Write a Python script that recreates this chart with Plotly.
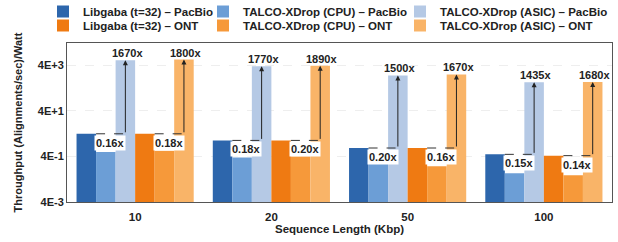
import math
import plotly.graph_objects as go

categories = ["10", "20", "50", "100"]

libgaba_pacbio = [3.9, 2.0, 0.93, 0.49]
talco_cpu_pacbio = [0.62, 0.36, 0.186, 0.073]
talco_asic_pacbio = [6500, 3540, 1400, 700]
libgaba_ont = [3.9, 2.0, 0.93, 0.43]
talco_cpu_ont = [0.70, 0.40, 0.149, 0.060]
talco_asic_ont = [7000, 3780, 1550, 720]

cpu_ratio_pacbio = ["0.16x", "0.18x", "0.20x", "0.15x"]
asic_ratio_pacbio = ["1670x", "1770x", "1500x", "1435x"]
cpu_ratio_ont = ["0.18x", "0.20x", "0.16x", "0.14x"]
asic_ratio_ont = ["1800x", "1890x", "1670x", "1680x"]

tick_vals = [0.004, 0.4, 40, 4000]
tick_text = ["4E-3", "4E-1", "4E+1", "4E+3"]

series = [
    ("Libgaba (t=32) – PacBio", libgaba_pacbio, "#2d66ac"),
    ("TALCO-XDrop (CPU) – PacBio", talco_cpu_pacbio, "#6c9ed6"),
    ("TALCO-XDrop (ASIC) – PacBio", talco_asic_pacbio, "#b5c9e5"),
    ("Libgaba (t=32) – ONT", libgaba_ont, "#ef7a12"),
    ("TALCO-XDrop (CPU) – ONT", talco_cpu_ont, "#f6993a"),
    ("TALCO-XDrop (ASIC) – ONT", talco_asic_ont, "#f9b468"),
]

FONT = "Liberation Sans"
W, H = 618, 242
ML, MR, MT, MB = 67, 6, 43, 40
PW = W - ML - MR

# legend slots: text-start px per row/column, row centre px
legend_cols = [[84, 244, 441], [84, 244, 441]]
legend_rows = [11.5, 25.5]

fig = go.Figure()
legend_layout = {}
for i, (name, vals, col) in enumerate(series):
    key = "legend" if i == 0 else f"legend{i + 1}"
    fig.add_trace(go.Bar(x=categories, y=vals, name=name, legend=key,
                         marker=dict(color=col, line=dict(width=0))))
    cx = legend_cols[i // 3][i % 3] - 41
    ry = legend_rows[i // 3]
    legend_layout[key] = dict(
        x=(cx - ML) / PW, xref="paper", xanchor="left",
        y=1 - ry / H, yref="container", yanchor="middle",
        font=dict(family=FONT, size=11.5, color="#222222", weight="bold"),
        bgcolor="rgba(0,0,0,0)", borderwidth=0, tracegroupgap=0,
    )

bargap = 0.14
n = len(series)
bw = (1 - bargap) / n

def center(ci, si):
    return ci - (1 - bargap) / 2 + bw * (si + 0.5)

groups = [
    (0, libgaba_pacbio, talco_cpu_pacbio, talco_asic_pacbio, cpu_ratio_pacbio, asic_ratio_pacbio),
    (3, libgaba_ont, talco_cpu_ont, talco_asic_ont, cpu_ratio_ont, asic_ratio_ont),
]
for ci in range(len(categories)):
    for s0, base, cpu, asic, rc, ra in groups:
        xb = center(ci, s0)
        xc = center(ci, s0 + 1)
        xa = center(ci, s0 + 2)
        fig.add_shape(type="line", xref="x", yref="y",
                      x0=xb + bw / 2, x1=xa, y0=base[ci], y1=base[ci],
                      line=dict(color="#333333", width=1, dash="dash"))
        fig.add_annotation(x=xa, y=math.log10(asic[ci]), ax=xa, ay=math.log10(base[ci]),
                           axref="x", ayref="y", xref="x", yref="y", text="",
                           showarrow=True, arrowhead=2, arrowsize=1, arrowwidth=1,
                           arrowcolor="#222222")
        fig.add_annotation(x=xa + 0.012, y=math.log10(asic[ci]), xref="x", yref="y",
                           text=ra[ci], showarrow=False, yanchor="bottom", yshift=-1,
                           font=dict(family=FONT, size=11, color="#222222", weight="bold"))
        fig.add_annotation(x=(xc + xa) / 2 - 0.04, y=math.log10(base[ci]), xref="x", yref="y",
                           text=rc[ci],
                           showarrow=False, yanchor="top", yshift=-1, bgcolor="white",
                           borderpad=1,
                           font=dict(family=FONT, size=11, color="#222222", weight="bold"))

fig.update_layout(
    width=W, height=H,
    margin=dict(l=ML, r=MR, t=MT, b=MB, autoexpand=False),
    paper_bgcolor="white", plot_bgcolor="white",
    barmode="group", bargap=bargap, bargroupgap=0,
    font=dict(family=FONT, size=11, color="#222222", weight="bold"),
    showlegend=True,
    **legend_layout,
)
fig.update_xaxes(showline=True, linecolor="#555555", linewidth=1, mirror=True,
                 ticks="", tickfont=dict(size=11.5), range=[-0.5, 3.5], ticklabelstandoff=4,
                 title=dict(text="Sequence Length (Kbp)", standoff=2, font=dict(size=11.5)))
fig.update_yaxes(type="log", range=[math.log10(0.004), 4.57], showline=True,
                 linecolor="#555555", linewidth=1, mirror=True,
                 tickvals=tick_vals, ticktext=tick_text, ticks="",
                 showgrid=True, gridcolor="#eeeeee", griddash="dash", gridwidth=1,
                 zeroline=False, tickfont=dict(size=11),
                 title=dict(text="Throughput (Alignments/sec)/Watt", standoff=12, font=dict(size=11)))

fig.write_html("out.html", config={"displayModeBar": False},
               post_script="document.body.style.margin='0px';")
